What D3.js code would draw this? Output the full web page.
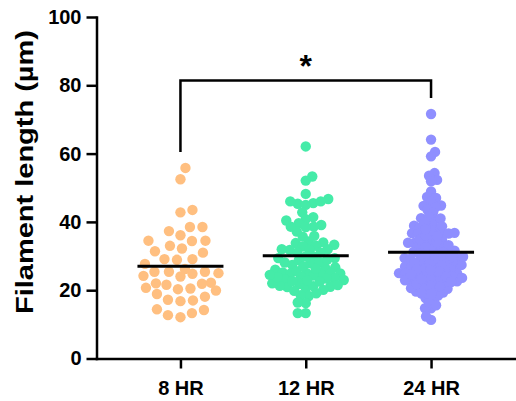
<!DOCTYPE html>
<html><head><meta charset="utf-8">
<script src="https://cdn.jsdelivr.net/npm/d3@7"></script>
<style>body{margin:0;background:#fff} svg{display:block}</style>
</head><body>
<svg id="chart" width="516" height="401"></svg>
<script>
const categories = ["8 HR", "12 HR", "24 HR"];
const hr8 = [55.8, 52.5, 42.8, 43.5, 37.3, 36.1, 38.5, 38.5, 33.0, 32.2, 34.5, 34.5, 34.4, 31.0, 31.4,
  28.9, 29.1, 27.7, 29.1, 25.4, 25.4, 25.0, 26.2, 25.4, 24.8, 24.0, 24.2, 22.2, 22.0, 21.6, 21.9,
  20.3, 19.9, 20.5, 20.7, 18.9, 18.1, 17.0, 16.8, 17.2, 14.4, 14.2, 12.7, 13.3, 12.1];
const hr12 = [62.1, 53.3, 52.1, 48.2, 46.7, 45.3, 45.5, 46.0, 45.0, 46.0, 42.8, 41.4, 40.4, 40.8, 39.6, 39.1,
  37.2, 38.6, 38.6, 38.5, 35.9, 35.7, 34.0, 34.3, 33.8, 33.0, 32.8, 33.3, 32.0, 31.8, 31.8, 32.0, 31.0, 31.0,
  29.4, 29.9, 29.4, 29.9, 28.1, 27.4, 26.7, 26.5, 26.0, 24.8, 25.0, 25.2, 24.8, 25.0, 24.0, 24.3, 24.9,
  23.5, 23.4, 23.0, 23.2, 20.6, 20.9, 21.8, 21.0, 20.1, 21.2, 21.3, 18.3, 19.1, 18.5, 16.2, 16.4, 13.3, 13.3,
  22.7, 28.8, 27.9, 25.6, 28.2, 22.5, 22.0, 27.0, 26.3, 22.8, 23.8, 29.0, 24.5, 19.8, 21.5];
const hr24 = [71.6, 64.1, 60.5, 59.2, 54.3, 52.3, 53.5, 51.9, 48.9, 47.3, 47.0, 46.0, 44.7, 44.8, 44.3, 43.5, 42.8,
  41.1, 40.8, 41.0, 41.6, 38.9, 38.2, 39.4, 38.7, 38.3, 36.7, 36.4, 36.8, 36.5, 36.6, 34.7, 34.3, 33.8,
  33.6, 32.8, 33.0, 32.3, 31.4, 31.6, 31.2, 30.8, 29.4, 29.0, 29.2, 29.1, 29.6, 29.0, 29.2,
  26.9, 27.4, 26.9, 27.4, 26.9, 25.0, 24.5, 25.0, 25.0, 24.8, 24.5, 22.1, 22.6, 22.1, 22.6, 22.3, 23.1,
  19.6, 19.3, 20.1, 20.1, 20.6, 17.2, 17.7, 14.7, 14.7, 11.3, 12.3,
  28.3, 30.2, 31.9, 27.8, 26.2, 25.7, 23.8, 24.1, 21.4, 20.9, 33.2, 34.9, 35.5, 37.4, 30.5,
  28.7, 27.2, 26.5, 23.4, 22.9, 21.8, 20.4, 19.0, 18.4, 16.3, 15.6, 32.6, 31.1, 30.0, 28.0,
  25.4, 24.0, 23.6, 22.4, 34.1, 35.8, 39.8, 36.0, 26.4, 37.9, 27.6, 26.0, 24.7, 21.1, 30.7,
  29.8, 33.9, 25.9, 23.3, 18.9];
const groups = [hr8, hr12, hr24];
const yTicks = [0, 20, 40, 60, 80, 100];
const yTitle = "Filament length (µm)";
const comparison = {from: "8 HR", to: "24 HR", label: "*"};

// styles / layout
const colors = ["#FFBF80", "#45EBA8", "#8F8FFF"];
const swarmMinDist = [12.2, 7.6, 5.7];
const dotR = 5.2;
const margin = {left: 96.5, top: 17, bottom: 358.5, right: 515};
const font = "'Liberation Sans', Arial, Helvetica, sans-serif";

const svg = d3.select("#chart");
const y = d3.scaleLinear().domain([0, 100]).range([margin.bottom, margin.top]);
const x = d3.scalePoint().domain(categories).range([margin.left, margin.right]).padding(0.67);

function swarm(values, minDist, maxHalf) {
  const order = values.map((v, i) => i).sort((a, b) => values[a] - values[b]);
  const placed = [];
  const xs = new Array(values.length);
  let flip = 1;
  order.forEach(i => {
    const py = y(values[i]);
    const near = placed.filter(p => Math.abs(p.y - py) < minDist);
    let best = 0, bestScore = -1, done = false;
    for (let d = 0; d <= maxHalf && !done; d += 0.5) {
      for (const s of (d === 0 ? [1] : [flip, -flip])) {
        const px = s * d;
        let md = Infinity;
        for (const p of near) {
          const dd = Math.hypot(p.x - px, p.y - py);
          if (dd < md) md = dd;
        }
        if (md >= minDist) { best = px; done = true; break; }
        if (md > bestScore) { bestScore = md; best = px; }
      }
    }
    flip = -flip;
    placed.push({x: best, y: py});
    xs[i] = best;
  });
  return xs;
}

// dots
groups.forEach((vals, gi) => {
  const offs = swarm(vals, swarmMinDist[gi], 38);
  svg.append("g").selectAll("circle").data(vals).join("circle")
    .attr("cx", (d, i) => x(categories[gi]) + offs[i])
    .attr("cy", d => y(d))
    .attr("r", dotR)
    .attr("fill", colors[gi]);
});

// mean lines
groups.forEach((vals, gi) => {
  const m = d3.mean(vals);
  svg.append("line")
    .attr("x1", x(categories[gi]) - 43).attr("x2", x(categories[gi]) + 43)
    .attr("y1", y(m)).attr("y2", y(m))
    .attr("stroke", "#000").attr("stroke-width", 3);
});

// axes
const yAxis = svg.append("g").attr("transform", `translate(${margin.left},0)`)
  .call(d3.axisLeft(y).tickValues(yTicks).tickSize(10).tickSizeOuter(0).tickPadding(5));
const xAxis = svg.append("g").attr("transform", `translate(0,${margin.bottom})`)
  .call(d3.axisBottom(x).tickSize(10).tickSizeOuter(0).tickPadding(8));
[yAxis, xAxis].forEach(a => {
  a.select(".domain").attr("stroke-width", 2.5).attr("stroke-linecap", "square");
  a.selectAll(".tick line").attr("stroke-width", 2.5);
  a.selectAll("text").attr("font-family", font).attr("font-weight", "bold")
    .attr("font-size", 20).attr("fill", "#000");
});
xAxis.selectAll("text").attr("dy", "0.9em");

// y title
svg.append("text")
  .attr("transform", "translate(33,172) rotate(-90)")
  .attr("text-anchor", "middle")
  .attr("font-family", font).attr("font-weight", "bold").attr("font-size", 24)
  .attr("textLength", 284).attr("lengthAdjust", "spacingAndGlyphs")
  .text(yTitle);

// significance bracket
const x1 = x(comparison.from), x2 = x(comparison.to);
const max1 = d3.max(groups[categories.indexOf(comparison.from)]);
const max2 = d3.max(groups[categories.indexOf(comparison.to)]);
const by = y(d3.max([max1, max2])) - 33.5;
svg.append("path")
  .attr("d", `M${x1},${y(max1) - 16}V${by}H${x2}V${y(max2) - 16}`)
  .attr("fill", "none").attr("stroke", "#000").attr("stroke-width", 2.5);
svg.append("text")
  .attr("x", (x1 + x2) / 2).attr("y", by - 3)
  .attr("text-anchor", "middle")
  .attr("font-family", font).attr("font-weight", "bold").attr("font-size", 32)
  .text(comparison.label);
</script>
</body></html>
